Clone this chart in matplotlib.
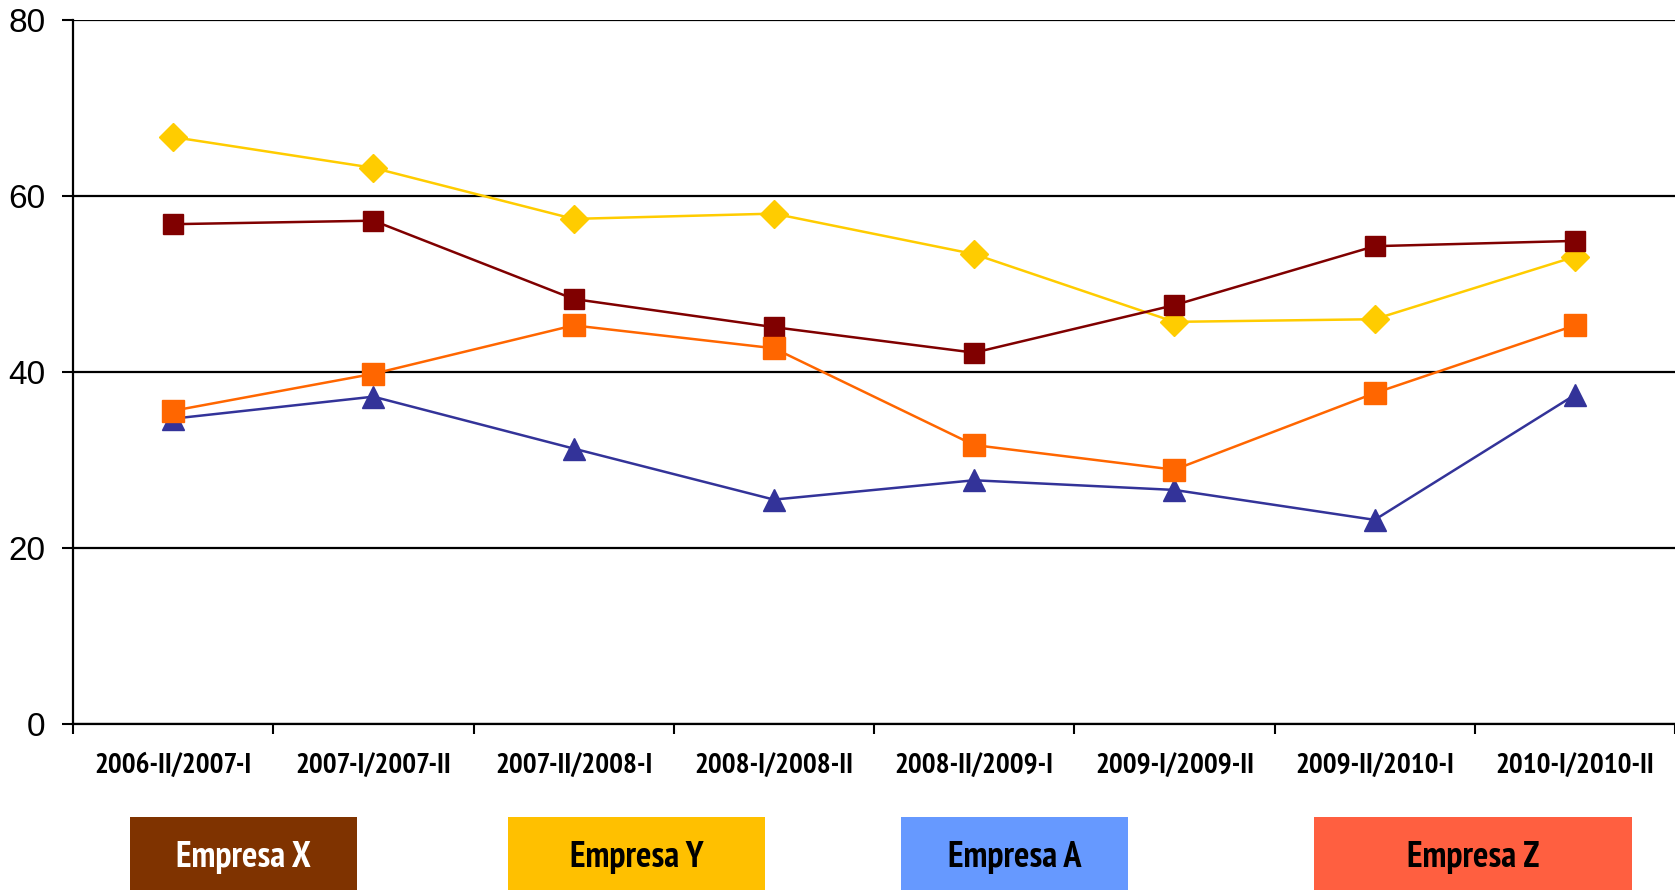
import matplotlib
matplotlib.use('Agg')
import matplotlib.pyplot as plt
from matplotlib.patches import Rectangle

periods = ['2006-II/2007-I', '2007-I/2007-II', '2007-II/2008-I', '2008-I/2008-II',
           '2008-II/2009-I', '2009-I/2009-II', '2009-II/2010-I', '2010-I/2010-II']

empresa_x = [56.8, 57.2, 48.3, 45.1, 42.2, 47.6, 54.3, 54.9]
empresa_y = [66.7, 63.2, 57.4, 58.0, 53.4, 45.7, 46.0, 53.1]
empresa_a = [34.7, 37.2, 31.3, 25.5, 27.7, 26.6, 23.2, 37.4]
empresa_z = [35.6, 39.8, 45.3, 42.7, 31.7, 28.9, 37.6, 45.3]

yticks = [0, 20, 40, 60, 80]

narrow = ['PT Sans Narrow', 'Roboto Condensed', 'DejaVu Sans']

fig = plt.figure(figsize=(16.75, 8.9), dpi=100)
ax = fig.add_axes([0.0436, 0.1865, 0.9564, 0.7910])

x = list(range(len(periods)))
ax.plot(x, empresa_y, color='#FFCC00', lw=1.8, marker='D', ms=14, zorder=3)
ax.plot(x, empresa_x, color='#800000', lw=1.8, marker='s', ms=15, zorder=4)
ax.plot(x, empresa_a, color='#333399', lw=1.8, marker='^', ms=16, zorder=3)
ax.plot(x, empresa_z, color='#FF6600', lw=1.8, marker='s', ms=16, zorder=5)

ax.set_xlim(-0.5, len(periods) - 0.5)
ax.set_ylim(0, 80)
ax.set_yticks(yticks)
ax.set_yticklabels([str(v) for v in yticks], fontsize=24, family='Liberation Sans')
ax.tick_params(axis='y', length=8, width=1.5, pad=12)
ax.grid(True, axis='y', color='black', lw=1.6, zorder=1)

# category ticks sit on the boundaries, labels in between
ax.set_xticks([i - 0.5 for i in range(len(periods) + 1)])
ax.set_xticklabels([])
ax.set_xticks(x, minor=True)
ax.set_xticklabels(periods, minor=True, fontsize=21, fontweight='bold', family=narrow)
ax.tick_params(axis='x', which='major', length=7, width=1.5)
ax.tick_params(axis='x', which='minor', length=0, pad=21)

for s in ['top', 'right']:
    ax.spines[s].set_visible(False)
ax.spines['left'].set_linewidth(1.6)
ax.spines['bottom'].set_linewidth(1.6)

# company boxes below the axis
W, H = 1675.0, 890.0
boxes = [
    ('Empresa X', 130, 357, '#7F3300', 'white'),
    ('Empresa Y', 508, 765, '#FFC000', 'black'),
    ('Empresa A', 901, 1128, '#6699FF', 'black'),
    ('Empresa Z', 1314, 1632, '#FF5F40', 'black'),
]
for name, x0, x1, fc, tc in boxes:
    fig.patches.append(Rectangle((x0 / W, 0), (x1 - x0) / W, (H - 817) / H,
                                 transform=fig.transFigure, facecolor=fc, edgecolor='none'))
    fig.text((x0 + x1) / 2 / W, (H - 857) / H, name, ha='center', va='center',
             fontsize=26, fontweight='bold', color=tc, family=narrow)

fig.savefig('out.png', dpi=100)
